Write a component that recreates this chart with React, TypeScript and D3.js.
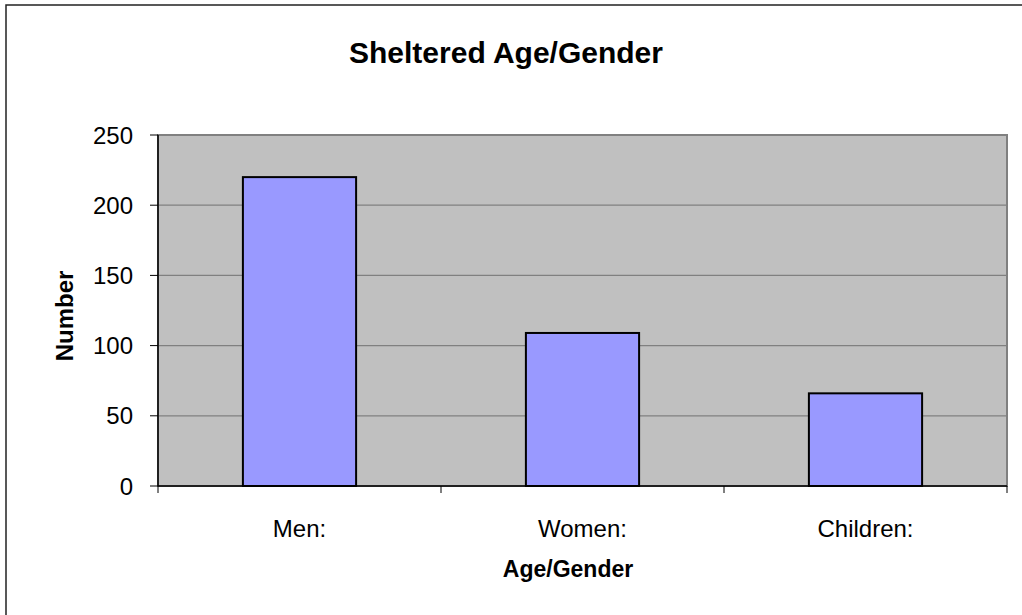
import React from 'react';
import * as d3 from 'd3';

const categories = ['Men:', 'Women:', 'Children:'];
const values = [220, 109, 66];
const yTicks = [0, 50, 100, 150, 200, 250];

const FONT = '"Liberation Sans", Arial, sans-serif';

function App() {
    const left = 158, right = 1007, top = 135, bottom = 486;

    // scales
    const x = d3.scaleBand<string>().domain(categories).range([left, right]).paddingInner(0.6).paddingOuter(0.3);
    const band = d3.scaleBand<string>().domain(categories).range([left, right]);
    const y = d3.scaleLinear().domain([0, 250]).range([bottom, top]);

    return (
        <svg width={1022} height={615} style={{ position: 'absolute', left: 0, top: 0, background: '#fff' }}>
            {/* chart area border (right/bottom run off the picture) */}
            <rect x={6} y={5} width={1030} height={620} fill="#fff" stroke="#222" strokeWidth={1.5} />

            <text x={506} y={63} textAnchor="middle" fontFamily={FONT} fontWeight="bold" fontSize={30}>
                Sheltered Age/Gender
            </text>

            {/* plot area */}
            <rect x={left} y={top} width={right - left} height={bottom - top} fill="#C0C0C0" stroke="#808080" strokeWidth={2} />

            {yTicks.map(t => (
                <g key={t}>
                    {t > 0 && <line x1={left} x2={right} y1={y(t)} y2={y(t)} stroke="#808080" strokeWidth={1.2} />}
                    <line x1={150} x2={left} y1={y(t)} y2={y(t)} stroke="#000" strokeWidth={1} />
                    <text x={133} y={y(t) + 8.5} textAnchor="end" fontFamily={FONT} fontSize={24}>{t}</text>
                </g>
            ))}

            {categories.map((c, i) => (
                <rect key={c} x={x(c)} y={y(values[i])} width={x.bandwidth()} height={bottom - y(values[i])}
                    fill="#9999FF" stroke="#000" strokeWidth={2} />
            ))}

            {/* axes */}
            <line x1={left} x2={left} y1={top} y2={bottom} stroke="#000" strokeWidth={1.5} />
            <line x1={left} x2={right} y1={bottom} y2={bottom} stroke="#000" strokeWidth={1.5} />
            {[...categories.map(c => band(c) as number), right].map((v, i) => (
                <line key={i} x1={v} x2={v} y1={bottom} y2={bottom + 7} stroke="#000" strokeWidth={1} />
            ))}
            {categories.map(c => (
                <text key={c} x={(band(c) as number) + band.bandwidth() / 2} y={537} textAnchor="middle"
                    fontFamily={FONT} fontSize={24}>{c}</text>
            ))}

            <text x={568} y={577} textAnchor="middle" fontFamily={FONT} fontWeight="bold" fontSize={23}>Age/Gender</text>
            <text transform="translate(73,316) rotate(-90)" textAnchor="middle" fontFamily={FONT} fontWeight="bold" fontSize={24}>Number</text>
        </svg>
    );
}

export default App;
